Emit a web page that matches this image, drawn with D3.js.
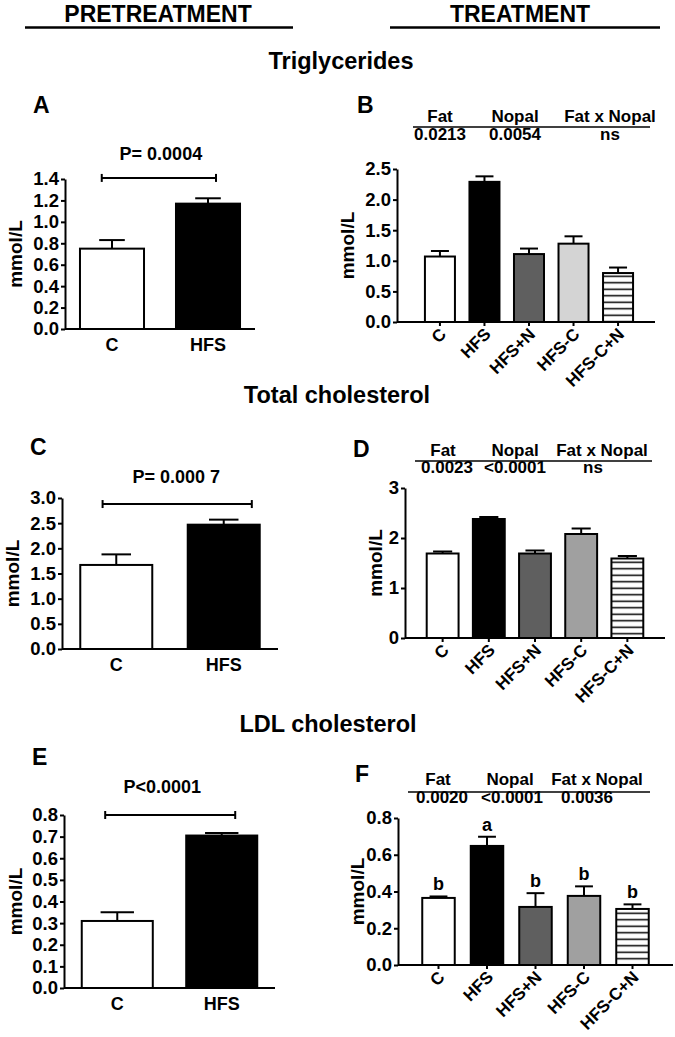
<!DOCTYPE html>
<html><head><meta charset="utf-8">
<script src="https://cdn.jsdelivr.net/npm/d3@7"></script>
<style>
html,body{margin:0;padding:0;background:#fff;}
svg text{font-family:"Liberation Sans",Arial,Helvetica,sans-serif;font-weight:bold;fill:#000;}
</style></head>
<body><svg id="chart" width="675" height="1037"></svg>
<script>
// ---------- DATA ----------
const groupsPre = ["C", "HFS"];
const groupsTreat = ["C", "HFS", "HFS+N", "HFS-C", "HFS-C+N"];

const tgPreMean = [0.75, 1.17];
const tgPreSem = [0.08, 0.05];
const tgTreatMean = [1.07, 2.29, 1.11, 1.28, 0.80];
const tgTreatSem = [0.09, 0.09, 0.09, 0.12, 0.09];

const tcPreMean = [1.67, 2.47];
const tcPreSem = [0.21, 0.10];
const tcTreatMean = [1.69, 2.38, 1.69, 2.08, 1.59];
const tcTreatSem = [0.04, 0.04, 0.06, 0.11, 0.05];

const ldlPreMean = [0.31, 0.705];
const ldlPreSem = [0.04, 0.012];
const ldlTreatMean = [0.365, 0.648, 0.316, 0.376, 0.305];
const ldlTreatSem = [0.008, 0.05, 0.075, 0.052, 0.025];
const ldlTreatLetters = ["b", "a", "b", "b", "b"];

const tgPreTicks = [0, 0.2, 0.4, 0.6, 0.8, 1.0, 1.2, 1.4];
const tgTreatTicks = [0, 0.5, 1.0, 1.5, 2.0, 2.5];
const tcPreTicks = [0, 0.5, 1.0, 1.5, 2.0, 2.5, 3.0];
const tcTreatTicks = [0, 1, 2, 3];
const ldlPreTicks = [0, 0.1, 0.2, 0.3, 0.4, 0.5, 0.6, 0.7, 0.8];
const ldlTreatTicks = [0, 0.2, 0.4, 0.6, 0.8];

const statHeads = ["Fat", "Nopal", "Fat x Nopal"];
const tgStatVals = ["0.0213", "0.0054", "ns"];
const tcStatVals = ["0.0023", "<0.0001", "ns"];
const ldlStatVals = ["0.0020", "<0.0001", "0.0036"];

const tgPreP = "P= 0.0004";
const tcPreP = "P= 0.000 7";
const ldlPreP = "P<0.0001";

const headers = ["PRETREATMENT", "TREATMENT"];
const sectionTitles = ["Triglycerides", "Total cholesterol", "LDL cholesterol"];
const yTitle = "mmol/L";

// ---------- STYLE ----------
const treatFillsLight = ["#ffffff", "#000000", "#5f5f5f", "#d4d4d4", "url(#stripes)"];
const treatFillsMid = ["#ffffff", "#000000", "#5f5f5f", "#a0a0a0", "url(#stripes)"];
const preFills = ["#ffffff", "#000000"];

const svg = d3.select("#chart");
const defs = svg.append("defs");
const pat = defs.append("pattern").attr("id", "stripes").attr("patternUnits", "userSpaceOnUse")
  .attr("width", 10).attr("height", 6.5);
pat.append("rect").attr("width", 10).attr("height", 6.5).attr("fill", "#fff");
pat.append("line").attr("x1", 0).attr("x2", 10).attr("y1", 3.25).attr("y2", 3.25)
  .attr("stroke", "#000").attr("stroke-width", 1.5);

// headers
const headerLayout = [{cx: 158, x1: 25, x2: 293}, {cx: 520, x1: 390, x2: 660}];
headers.forEach((h, i) => {
  const L = headerLayout[i];
  svg.append("text").attr("x", L.cx).attr("y", 21.5).attr("text-anchor", "middle")
    .style("font-size", "23px").text(h);
  svg.append("line").attr("x1", L.x1).attr("x2", L.x2).attr("y1", 27.5).attr("y2", 27.5)
    .attr("stroke", "#000").attr("stroke-width", 2.5);
});
const titleLayout = [{cx: 341, y: 69}, {cx: 337, y: 403}, {cx: 328, y: 732}];
sectionTitles.forEach((t, i) => {
  svg.append("text").attr("x", titleLayout[i].cx).attr("y", titleLayout[i].y)
    .attr("text-anchor", "middle").style("font-size", "23.5px").text(t);
});

function panel(cfg) {
  const g = svg.append("g");
  const x = d3.scaleBand().domain(cfg.groups).range([cfg.x0, cfg.x1])
    .paddingInner(cfg.pi).paddingOuter(cfg.po).align(cfg.align ?? 0.5);
  const y = d3.scaleLinear().domain([0, d3.max(cfg.ticks)]).range([cfg.y0, cfg.y1]);
  const bw = x.bandwidth();

  // panel letter
  g.append("text").attr("x", cfg.letter.x).attr("y", cfg.letter.y)
    .style("font-size", "23px").text(cfg.letter.t);

  // error bars (upper only)
  const eb = g.selectAll(".eb").data(cfg.groups).enter().append("g");
  eb.append("line")
    .attr("x1", d => x(d) + bw / 2).attr("x2", d => x(d) + bw / 2)
    .attr("y1", (d, i) => y(cfg.mean[i])).attr("y2", (d, i) => y(cfg.mean[i] + cfg.sem[i]))
    .attr("stroke", "#000").attr("stroke-width", 2);
  eb.append("line")
    .attr("x1", d => x(d) + bw / 2 - bw * cfg.cap / 2).attr("x2", d => x(d) + bw / 2 + bw * cfg.cap / 2)
    .attr("y1", (d, i) => y(cfg.mean[i] + cfg.sem[i])).attr("y2", (d, i) => y(cfg.mean[i] + cfg.sem[i]))
    .attr("stroke", "#000").attr("stroke-width", 2);

  // bars
  g.selectAll(".bar").data(cfg.groups).enter().append("rect")
    .attr("x", d => x(d)).attr("width", bw)
    .attr("y", (d, i) => y(cfg.mean[i])).attr("height", (d, i) => y(0) - y(cfg.mean[i]))
    .attr("fill", (d, i) => cfg.fills[i]).attr("stroke", "#000").attr("stroke-width", 2);

  // y axis
  const ya = g.append("g").attr("transform", `translate(${cfg.x0},0)`)
    .call(d3.axisLeft(y).tickValues(cfg.ticks).tickFormat(d3.format(cfg.fmt)).tickSize(4).tickSizeOuter(0).tickPadding(2));
  ya.select(".domain").attr("stroke", "#000").attr("stroke-width", 2);
  ya.selectAll(".tick line").attr("stroke", "#000").attr("stroke-width", 2);
  ya.selectAll(".tick text").style("font-size", "18.5px").attr("font-family", null).attr("fill", "#000");

  // x axis
  const xa = g.append("g").attr("transform", `translate(0,${cfg.y0})`)
    .call(d3.axisBottom(x).tickSize(cfg.rotate ? 4 : 0).tickSizeOuter(0).tickPadding(4));
  xa.select(".domain").attr("stroke", "#000").attr("stroke-width", 2)
    .attr("d", `M${cfg.x0},0H${cfg.x1}`);
  xa.selectAll(".tick line").attr("stroke", "#000").attr("stroke-width", 2);
  const xt = xa.selectAll(".tick text").attr("font-family", null).attr("fill", "#000");
  if (cfg.rotate) {
    xt.style("font-size", "17px").attr("text-anchor", "end").attr("y", 0).attr("dy", "0.35em")
      .attr("transform", "translate(3,9) rotate(-45)");
  } else {
    xt.style("font-size", "18px").attr("dy", "1.0em");
  }

  // y title
  g.append("text").attr("transform", `translate(${cfg.ytx},${(cfg.y0 + cfg.y1) / 2}) rotate(-90)`)
    .attr("text-anchor", "middle").attr("dy", "0.36em").style("font-size", "19px").text(yTitle);

  // significance bracket
  if (cfg.bracket) {
    const b = cfg.bracket;
    const bx1 = x(cfg.groups[0]) + bw * b.f1, bx2 = x(cfg.groups[1]) + bw * b.f2, by = y(b.v);
    g.append("line").attr("x1", bx1).attr("x2", bx2).attr("y1", by).attr("y2", by).attr("stroke", "#000").attr("stroke-width", 2);
    [bx1, bx2].forEach(bx => g.append("line").attr("x1", bx).attr("x2", bx).attr("y1", by - 4).attr("y2", by + 4)
      .attr("stroke", "#000").attr("stroke-width", 2));
    g.append("text").attr("x", (bx1 + bx2) / 2 + b.dx).attr("y", by - b.dy).attr("text-anchor", "middle")
      .style("font-size", "18px").text(b.text);
  }

  // stats table
  if (cfg.table) {
    const T = cfg.table;
    statHeads.forEach((h, i) => g.append("text").attr("x", T.hc[i]).attr("y", T.hy).attr("text-anchor", "middle")
      .style("font-size", "17px").text(h));
    g.append("line").attr("x1", T.lx1).attr("x2", T.lx2).attr("y1", T.ly).attr("y2", T.ly)
      .attr("stroke", "#000").attr("stroke-width", 1.5);
    T.vals.forEach((v, i) => g.append("text").attr("x", T.vc[i]).attr("y", T.vy).attr("text-anchor", "middle")
      .style("font-size", "17px").text(v));
  }

  // letters above bars
  if (cfg.letters) {
    g.selectAll(".lt").data(cfg.groups).enter().append("text")
      .attr("x", d => x(d) + bw / 2).attr("y", (d, i) => y(cfg.mean[i] + cfg.sem[i]) - 6)
      .attr("text-anchor", "middle").style("font-size", "18px").text((d, i) => cfg.letters[i]);
  }
}

// A
panel({groups: groupsPre, mean: tgPreMean, sem: tgPreSem, ticks: tgPreTicks, fmt: ".1f", fills: preFills,
  x0: 65, x1: 255, y0: 329, y1: 179, pi: 0.333, po: 0.156, cap: 0.4, ytx: 15,
  letter: {t: "A", x: 33, y: 113},
  bracket: {v: 1.41, f1: 0.34, f2: 0.625, text: tgPreP, dy: 18, dx: 2}});
// B
panel({groups: groupsTreat, mean: tgTreatMean, sem: tgTreatSem, ticks: tgTreatTicks, fmt: ".1f", fills: treatFillsLight,
  x0: 397, x1: 655, y0: 322, y1: 169, pi: 0.326, po: 0.56, align: 0.56, cap: 0.6, ytx: 347, rotate: true,
  letter: {t: "B", x: 357, y: 113},
  table: {hc: [440, 515, 610], hy: 122, lx1: 413, lx2: 650, ly: 127, vc: [440, 515, 610], vy: 140, vals: tgStatVals}});
// C
panel({groups: groupsPre, mean: tcPreMean, sem: tcPreSem, ticks: tcPreTicks, fmt: ".1f", fills: preFills,
  x0: 62, x1: 278, y0: 649, y1: 498, pi: 0.33, po: 0.17, cap: 0.41, ytx: 12,
  letter: {t: "C", x: 30, y: 455},
  bracket: {v: 2.88, f1: 0.31, f2: 0.89, text: tcPreP, dy: 21, dx: -1}});
// D
panel({groups: groupsTreat, mean: tcTreatMean, sem: tcTreatSem, ticks: tcTreatTicks, fmt: "d", fills: treatFillsMid,
  x0: 405, x1: 665, y0: 638, y1: 488, pi: 0.31, po: 0.47, cap: 0.6, ytx: 375, rotate: true,
  letter: {t: "D", x: 353, y: 457},
  table: {hc: [443, 515, 602], hy: 456, lx1: 415, lx2: 652, ly: 461, vc: [447, 515, 593], vy: 473, vals: tcStatVals}});
// E
panel({groups: groupsPre, mean: ldlPreMean, sem: ldlPreSem, ticks: ldlPreTicks, fmt: ".1f", fills: preFills,
  x0: 64, x1: 275, y0: 988, y1: 815, pi: 0.32, po: 0.17, cap: 0.47, ytx: 15,
  letter: {t: "E", x: 32, y: 765},
  bracket: {v: 0.8, f1: 0.33, f2: 0.69, text: ldlPreP, dy: 22, dx: -8}});
// F
panel({groups: groupsTreat, mean: ldlTreatMean, sem: ldlTreatSem, ticks: ldlTreatTicks, fmt: ".1f", fills: treatFillsMid,
  x0: 398, x1: 673, y0: 965, y1: 818, pi: 0.33, po: 0.5, cap: 0.55, ytx: 357, rotate: true,
  letter: {t: "F", x: 355, y: 782}, letters: ldlTreatLetters,
  table: {hc: [438, 510, 597], hy: 785, lx1: 408, lx2: 650, ly: 792, vc: [442, 512, 587], vy: 803, vals: ldlStatVals}});
</script></body></html>
